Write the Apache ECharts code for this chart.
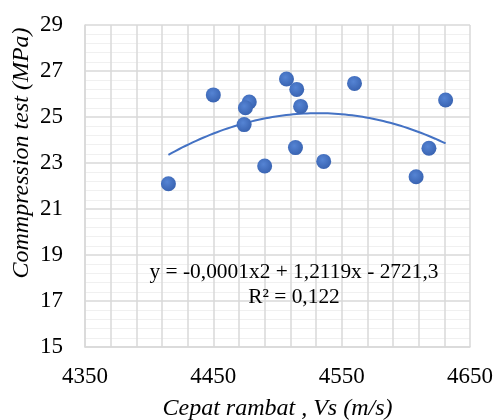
<!DOCTYPE html>
<html>
<head>
<meta charset="utf-8">
<script src="https://cdn.jsdelivr.net/npm/echarts@6/dist/echarts.min.js"></script>
<style>html,body{margin:0;padding:0;background:#fff}#c{width:497px;height:420px}</style>
</head>
<body>
<div id="c"></div>
<script>
// Data
var velocity = [4415, 4450, 4478, 4475, 4474, 4490, 4507, 4515, 4518, 4514, 4536, 4560, 4631, 4618, 4608];
var strength = [22.1, 25.96, 25.65, 25.4, 24.67, 22.87, 26.65, 26.2, 25.46, 23.67, 23.07, 26.46, 25.74, 23.64, 22.4];
var xTicks = [4350, 4450, 4550, 4650];
var yTicks = [15, 17, 19, 21, 23, 25, 27, 29];
var xTitle = 'Cepat rambat , Vs (m/s)';
var yTitle = 'Commpression test (MPa)';
var eqLine1 = 'y = -0,0001x2 + 1,2119x - 2721,3';
var eqLine2 = 'R² = 0,122';

// Polynomial (order 2) least-squares trendline from the data, like the spreadsheet trendline
function quadFit(xs, ys) {
  var n = xs.length, m = 0;
  xs.forEach(function (v) { m += v; }); m /= n;
  var S = [0, 0, 0, 0, 0], T = [0, 0, 0];
  for (var i = 0; i < n; i++) {
    var u = xs[i] - m, p = 1;
    for (var k = 0; k < 5; k++) { S[k] += p; if (k < 3) T[k] += p * ys[i]; p *= u; }
  }
  var A = [[S[0], S[1], S[2], T[0]], [S[1], S[2], S[3], T[1]], [S[2], S[3], S[4], T[2]]];
  for (var c = 0; c < 3; c++) {
    for (var r = c + 1; r < 3; r++) {
      var f = A[r][c] / A[c][c];
      for (var j = c; j < 4; j++) A[r][j] -= f * A[c][j];
    }
  }
  var b = [0, 0, 0];
  for (var r2 = 2; r2 >= 0; r2--) {
    var s = A[r2][3];
    for (var j2 = r2 + 1; j2 < 3; j2++) s -= A[r2][j2] * b[j2];
    b[r2] = s / A[r2][r2];
  }
  return function (x) { var u = x - m; return b[0] + b[1] * u + b[2] * u * u; };
}
var fit = quadFit(velocity, strength);
var xMin = Math.min.apply(null, velocity), xMax = Math.max.apply(null, velocity);
var trend = [];
for (var i = 0; i <= 80; i++) { var xv = xMin + (xMax - xMin) * i / 80; trend.push([xv, fit(xv)]); }

var chart = echarts.init(document.getElementById('c'), null, { renderer: 'canvas' });
var font = '"Liberation Serif", "Times New Roman", serif';
var gridCol = '#d9d9d9';
chart.setOption({
  animation: false,
  backgroundColor: '#ffffff',
  grid: { left: 85, right: 27, top: 25, bottom: 73, containLabel: false, outerBoundsMode: 'none' },
  xAxis: {
    type: 'value', min: xTicks[0], max: xTicks[xTicks.length - 1], interval: 100,
    axisLine: { show: true, lineStyle: { color: gridCol, width: 1.5 } },
    axisTick: { show: false },
    axisLabel: { color: '#000', fontFamily: font, fontSize: 23, margin: 18, formatter: function (v) { return String(v); } },
    splitLine: { show: true, lineStyle: { color: gridCol, width: 1.5 } },
    minorTick: { show: false, splitNumber: 5 },
    minorSplitLine: { show: true, lineStyle: { color: gridCol, width: 1.5 } },
    name: xTitle, nameLocation: 'middle', nameGap: 50,
    nameTextStyle: { fontFamily: font, fontSize: 24, fontStyle: 'italic', color: '#000', verticalAlign: 'top' }
  },
  yAxis: {
    type: 'value', min: yTicks[0], max: yTicks[yTicks.length - 1], interval: 2,
    axisLine: { show: true, lineStyle: { color: gridCol, width: 1.5 } },
    axisTick: { show: false },
    axisLabel: { color: '#000', fontFamily: font, fontSize: 23, margin: 22, formatter: function (v) { return String(v); } },
    splitLine: { show: true, lineStyle: { color: gridCol, width: 1.5 } },
    minorTick: { show: false, splitNumber: 5 },
    minorSplitLine: { show: true, lineStyle: { color: '#f0f0f0', width: 1.2 } }
  },
  graphic: [
    { type: 'text', x: 22, y: 153, rotation: Math.PI / 2,
      style: { text: yTitle, font: 'italic 24px ' + font, fill: '#000', textAlign: 'center', textVerticalAlign: 'middle' } },
    { type: 'text', x: 294, y: 272, z: 10,
      style: { text: eqLine1, font: '21.4px ' + font, fill: '#000', textAlign: 'center', textVerticalAlign: 'middle' } },
    { type: 'text', x: 294, y: 297, z: 10,
      style: { text: eqLine2, font: '21.4px ' + font, fill: '#000', textAlign: 'center', textVerticalAlign: 'middle' } }
  ],
  series: [
    {
      type: 'line', data: trend, showSymbol: false, smooth: false, z: 3,
      lineStyle: { color: '#4472C4', width: 2 }
    },
    {
      type: 'scatter', data: velocity.map(function (v, i) { return [v, strength[i]]; }),
      symbol: 'circle', symbolSize: 15, z: 4,
      itemStyle: {
        opacity: 1,
        color: { type: 'radial', x: 0.42, y: 0.38, r: 0.65,
          colorStops: [{ offset: 0, color: '#5584d4' }, { offset: 1, color: '#3862b0' }] }
      }
    }
  ]
});
</script>
</body>
</html>
